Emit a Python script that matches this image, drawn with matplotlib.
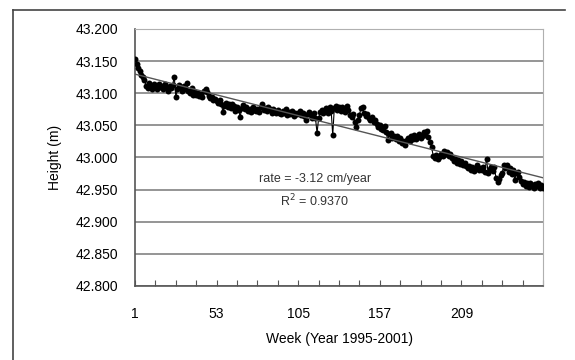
import numpy as np
import matplotlib
matplotlib.use('Agg')
import matplotlib.pyplot as plt
from matplotlib.lines import Line2D
from matplotlib.ticker import MultipleLocator, FixedLocator

plt.rcParams['font.family'] = ['Liberation Sans', 'DejaVu Sans']

# weekly height readings (m), week 1 .. 261
height = [
    43.154, 43.146, 43.140, 43.134, 43.129, 43.126, 43.121, 43.112, 43.108, 43.116, 43.110, 43.106, 43.114,
    43.111, 43.107, 43.115, 43.109, 43.112, 43.106, 43.114, 43.110, 43.104, 43.112, 43.108, 43.113, 43.126,
    43.094, 43.106, 43.113, 43.109, 43.103, 43.111, 43.107, 43.116, 43.104, 43.100, 43.108, 43.098, 43.102,
    43.097, 43.101, 43.095, 43.099, 43.094, 43.103, 43.107, 43.102, 43.096, 43.092, 43.094, 43.089, 43.091,
    43.088, 43.085, 43.090, 43.083, 43.071, 43.080, 43.085, 43.078, 43.083, 43.077, 43.084, 43.080, 43.072,
    43.079, 43.074, 43.063, 43.077, 43.082, 43.075, 43.079, 43.073, 43.076, 43.071, 43.078, 43.074, 43.072,
    43.076, 43.071, 43.079, 43.083, 43.074, 43.077, 43.072, 43.078, 43.075, 43.070, 43.076, 43.073, 43.069,
    43.074, 43.070, 43.067, 43.073, 43.069, 43.075, 43.066, 43.071, 43.068, 43.072, 43.064, 43.070, 43.067,
    43.069, 43.073, 43.066, 43.070, 43.064, 43.058, 43.068, 43.071, 43.066, 43.062, 43.070, 43.061, 43.038,
    43.061, 43.071, 43.074, 43.069, 43.073, 43.077, 43.070, 43.079, 43.072, 43.035, 43.077, 43.080, 43.074,
    43.078, 43.073, 43.079, 43.075, 43.071, 43.080, 43.074, 43.066, 43.063, 43.068, 43.055, 43.048, 43.058,
    43.066, 43.077, 43.079, 43.069, 43.064, 43.067, 43.061, 43.058, 43.063, 43.055, 43.059, 43.052, 43.048,
    43.051, 43.045, 43.043, 43.049, 43.040, 43.027, 43.036, 43.038, 43.031, 43.034, 43.028, 43.033, 43.026,
    43.030, 43.022, 43.025, 43.020, 43.027, 43.031, 43.026, 43.033, 43.029, 43.035, 43.028, 43.032, 43.036,
    43.031, 43.034, 43.040, 43.035, 43.041, 43.032, 43.024, 43.016, 43.003, 42.999, 43.004, 42.998, 43.001,
    43.006, 43.002, 43.010, 43.005, 43.008, 43.003, 43.006, 42.999, 42.994, 42.998, 42.992, 42.996, 42.990,
    42.995, 42.988, 42.991, 42.986, 42.983, 42.987, 42.981, 42.985, 42.979, 42.984, 42.988, 42.980, 42.983,
    42.980, 42.985, 42.978, 42.998, 42.976, 42.982, 42.985, 42.979, 42.985, 42.968, 42.962, 42.966, 42.972,
    42.976, 42.988, 42.983, 42.989, 42.978, 42.984, 42.975, 42.980, 42.965, 42.976, 42.977, 42.970, 42.963,
    42.958, 42.962, 42.956, 42.960, 42.954, 42.961, 42.957, 42.952, 42.959, 42.955, 42.961, 42.953, 42.957, 42.952,
]
weeks = np.arange(1, len(height) + 1)

x_labels = [1, 53, 105, 157, 209]
y_ticks = [42.80, 42.85, 42.90, 42.95, 43.00, 43.05, 43.10, 43.15, 43.20]

rate_text = 'rate = -3.12 cm/year'
r2_text = 'R$^2$ = 0.9370'

fig = plt.figure(figsize=(5.75, 3.6), dpi=100)
ax = fig.add_axes([0.2348, 0.2056, 0.7096, 0.7139])

# gridlines
for yv in y_ticks:
    ax.axhline(yv, color='#8c8c8c', lw=1.3, zorder=1)

ax.plot(weeks, height, color='black', lw=0.8, marker='o', ms=4.3,
        markeredgewidth=0, zorder=3)

# linear trend
coef = np.polyfit(weeks, height, 1)
ax.plot(weeks, np.polyval(coef, weeks), color='#555555', lw=1.0, zorder=4)

ax.set_xlim(1, len(height))
ax.set_ylim(42.8, 43.2)
ax.set_yticks(y_ticks)
ax.set_yticklabels(['%.3f' % v for v in y_ticks])
ax.xaxis.set_major_locator(FixedLocator(x_labels))
ax.xaxis.set_minor_locator(MultipleLocator(13, offset=1))
ax.tick_params(axis='x', which='both', direction='in', length=4, width=0.8,
               color='#555555', pad=15)
ax.tick_params(axis='y', length=0, pad=12)
ax.tick_params(labelsize=10)

for s in ['top', 'right']:
    ax.spines[s].set_color('#b0b0b0')
for s in ['left', 'bottom']:
    ax.spines[s].set_color('#555555')
    ax.spines[s].set_linewidth(1.2)

ax.text(0.441, 0.416, rate_text, fontsize=9, ha='center', va='center',
        color='#333333', transform=ax.transAxes)
ax.text(0.441, 0.33, r2_text, fontsize=9, ha='center', va='center',
        color='#333333', transform=ax.transAxes)

ax.set_xlabel('Week (Year 1995-2001)', fontsize=10, labelpad=8)
ax.set_ylabel('Height (m)', fontsize=10, labelpad=10)

# outer chart frame (cropped on the right/bottom)
fig.add_artist(Line2D([13 / 575, 565 / 575], [1 - 10 / 360, 1 - 10 / 360],
                      color='#444444', lw=1.2))
fig.add_artist(Line2D([13 / 575, 13 / 575], [0, 1 - 10 / 360],
                      color='#444444', lw=1.2))

fig.savefig('out.png', dpi=100)
